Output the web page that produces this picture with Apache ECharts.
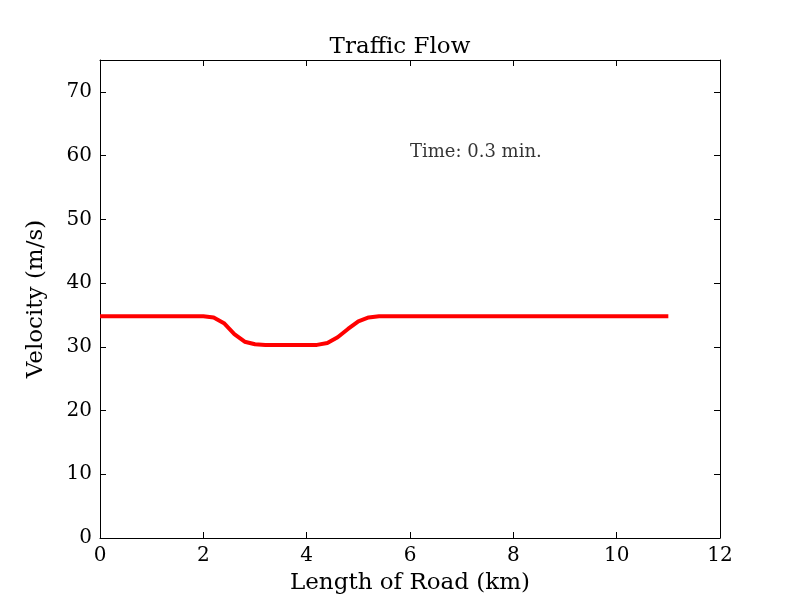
<!DOCTYPE html>
<html>
<head>
<meta charset="utf-8">
<script src="https://cdn.jsdelivr.net/npm/echarts@6/dist/echarts.min.js"></script>
<style>html,body{margin:0;padding:0;background:#fff}#chart-container{width:800px;height:600px}</style>
</head>
<body>
<div id="chart-container"></div>
<script>
const roadKm = [0, 0.2, 0.4, 0.6, 0.8, 1.0, 1.2, 1.4, 1.6, 1.8, 2.0, 2.2, 2.4, 2.6, 2.8, 3.0, 3.2, 3.4, 3.6, 3.8, 4.0, 4.2, 4.4, 4.6, 4.8, 5.0, 5.2, 5.4, 5.6, 6.0, 7.0, 8.0, 9.0, 10.0, 11.0];
const velocity = [34.8, 34.8, 34.8, 34.8, 34.8, 34.8, 34.8, 34.8, 34.8, 34.8, 34.8, 34.6, 33.7, 32.0, 30.8, 30.4, 30.3, 30.3, 30.3, 30.3, 30.3, 30.3, 30.6, 31.5, 32.8, 34.0, 34.6, 34.8, 34.8, 34.8, 34.8, 34.8, 34.8, 34.8, 34.8];
const timeLabel = "Time: 0.3 min.";
const labelPos = [6, 60.5];

const font = "DejaVu Serif";
const chart = echarts.init(document.getElementById("chart-container"));
const axisCommon = {
  axisLine: { show: true, onZero: false, lineStyle: { color: "#000", width: 1 } },
  axisTick: { show: true, inside: true, length: 6, lineStyle: { color: "#000" } },
  axisLabel: { color: "#000", fontFamily: font, fontSize: 20 },
  splitLine: { show: false },
  nameTextStyle: { color: "#000", fontFamily: font, fontSize: 23 },
};
chart.setOption({
  animation: false,
  title: {
    text: "Traffic Flow", left: "center", top: 31,
    textStyle: { fontFamily: font, fontSize: 23, fontWeight: "normal", color: "#000" },
  },
  grid: { left: 100, right: 80, top: 60, bottom: 60 },
  xAxis: [
    Object.assign({}, axisCommon, {
      type: "value", min: 0, max: 12, interval: 2,
      name: "Length of Road (km)", nameLocation: "middle", nameGap: 34,
    }),
    Object.assign({}, axisCommon, {
      type: "value", min: 0, max: 12, interval: 2, position: "top",
      axisLabel: { show: false }, name: "",
    }),
  ],
  yAxis: [
    Object.assign({}, axisCommon, {
      type: "value", min: 0, max: 75, interval: 10,
      axisLabel: Object.assign({}, axisCommon.axisLabel, { formatter: (v) => (v % 10 === 0 ? v : "") }),
      name: "Velocity (m/s)", nameLocation: "middle", nameGap: 52,
    }),
    Object.assign({}, axisCommon, {
      type: "value", min: 0, max: 75, interval: 10, position: "right",
      axisLabel: { show: false }, name: "",
    }),
  ],
  series: [
    {
      type: "line",
      data: roadKm.map((x, i) => [x, velocity[i]]),
      showSymbol: false,
      lineStyle: { color: "#ff0000", width: 4 },
      itemStyle: { color: "#ff0000" },
    },
    {
      type: "scatter",
      data: [labelPos],
      symbolSize: 0,
      silent: true,
      label: { show: true, formatter: timeLabel, position: "right", offset: [-5, 0], color: "#000", fontFamily: font, fontSize: 18 },
    },
  ],
});
</script>
</body>
</html>
